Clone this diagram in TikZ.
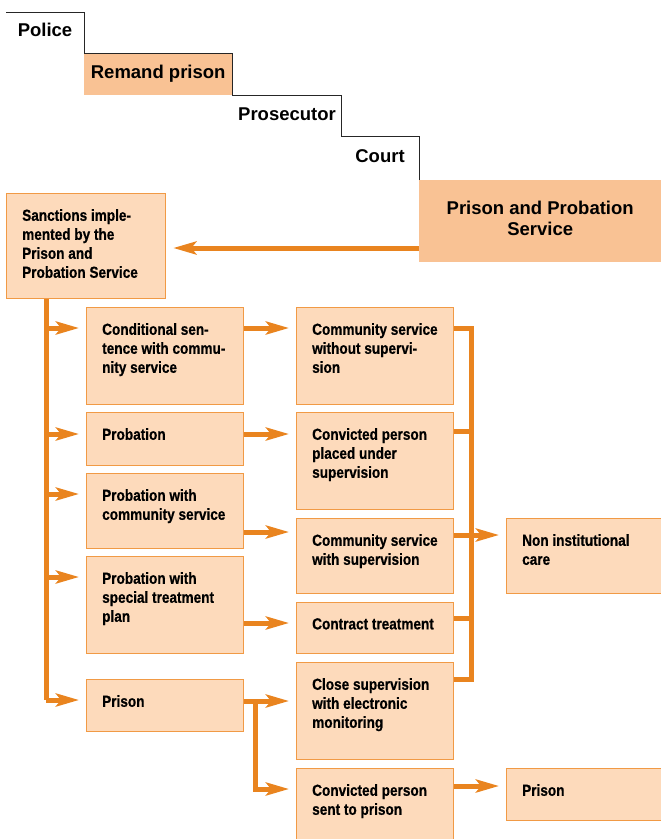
\documentclass[tikz,border=0pt]{standalone}
\usepackage{fontspec}
\setmainfont{Liberation Sans}
\newfontfamily\narrowfont[FakeStretch=0.85, FakeBold=0.6]{Liberation Sans Bold}
\usetikzlibrary{arrows.meta}
\definecolor{orline}{HTML}{E9841F}
\definecolor{boxfill}{HTML}{FDDABB}
\definecolor{boxdraw}{HTML}{F19A45}
\definecolor{stepfill}{HTML}{F9C294}

\tikzset{
  sbox/.style={draw=boxdraw, line width=1.3pt, fill=boxfill, anchor=north west, inner sep=0pt},
  lbl/.style={anchor=north west, inner sep=0pt, xshift=16pt, yshift=-16pt, align=left,
    font=\narrowfont\fontsize{16}{19}\selectfont},
  ln/.style={orline, line width=5pt},
  arr/.style={ln, -{Stealth[length=23pt,width=13pt,inset=5pt]}, shorten >=7pt},
  steplbl/.style={font=\bfseries\fontsize{18.5}{21}\selectfont, inner sep=0pt},
}

\begin{document}
\begin{tikzpicture}[x=1pt, y=-1pt]
        \useasboundingbox (0,0) rectangle (661,839);
        \clip (0,0) rectangle (661,839);

        \node[steplbl, fill=stepfill, anchor=north west, minimum width=148pt, minimum height=42pt] (remand) at (84,53) {Remand prison};
        \node[steplbl, fill=stepfill, anchor=north west, minimum width=242pt, minimum height=82pt, align=center, text depth=6pt] (pps) at (419,180) {Prison and Probation\\Service};
        \draw[black!85, line width=0.8pt] (6,12) -| (84,53) -| (232,95) -| (341,136) -| (419,180);
        \node[steplbl, anchor=base] (police) at (45,36) {Police};
        \node[steplbl, anchor=base] (prosec) at (287,120) {Prosecutor};
        \node[steplbl, anchor=base] (court) at (380,162) {Court};

        \node[sbox, minimum width=159pt, minimum height=105pt, label={[lbl]north west:{Sanctions imple-\\mented by the\\Prison and\\Probation Service}}] (sanc) at (6,193) {};

        \node[sbox, minimum width=157pt, minimum height=97pt, label={[lbl]north west:{Conditional sen-\\tence with commu-\\nity service}}] (cond) at (86,307) {};
        \node[sbox, minimum width=157pt, minimum height=53pt, label={[lbl]north west:{Probation}}] (prob) at (86,412) {};
        \node[sbox, minimum width=157pt, minimum height=75pt, label={[lbl]north west:{Probation with\\community service}}] (pcs) at (86,473) {};
        \node[sbox, minimum width=157pt, minimum height=97pt, label={[lbl]north west:{Probation with\\special treatment\\plan}}] (pst) at (86,556) {};
        \node[sbox, minimum width=157pt, minimum height=52pt, label={[lbl]north west:{Prison}}] (prisa) at (86,679) {};

        \node[sbox, minimum width=157pt, minimum height=97pt, label={[lbl]north west:{Community service\\without supervi-\\sion}}] (csno) at (296,307) {};
        \node[sbox, minimum width=157pt, minimum height=97pt, label={[lbl]north west:{Convicted person\\placed under\\supervision}}] (cpps) at (296,412) {};
        \node[sbox, minimum width=157pt, minimum height=75pt, label={[lbl]north west:{Community service\\with supervision}}] (csw) at (296,518) {};
        \node[sbox, minimum width=157pt, minimum height=51pt, label={[lbl]north west:{Contract treatment}}] (ct) at (296,602) {};
        \node[sbox, minimum width=157pt, minimum height=97pt, label={[lbl]north west:{Close supervision\\with electronic\\monitoring}}] (cse) at (296,662) {};
        \node[sbox, minimum width=157pt, minimum height=80pt, label={[lbl]north west:{Convicted person\\sent to prison}}] (cpsp) at (296,768) {};

        \node[sbox, minimum width=160pt, minimum height=75pt, label={[lbl]north west:{Non institutional\\care}}] (nic) at (506,518) {};
        \node[sbox, minimum width=160pt, minimum height=52pt, label={[lbl]north west:{Prison}}] (prisb) at (506,768) {};

        \coordinate (lbus) at (46,700);
        \coordinate (rbus) at (471,679);
        \coordinate (split) at (255,701);

        \draw[arr] (pps.west |- 0,248) -- (sanc.east |- 0,248);
        \draw[ln] (sanc.south -| lbus) -- (lbus);
        \draw[arr] (lbus |- 0,328) -- (cond.west |- 0,328);
        \draw[arr] (lbus |- 0,434) -- (prob.west |- 0,434);
        \draw[arr] (lbus |- 0,494) -- (pcs.west |- 0,494);
        \draw[arr] (lbus |- 0,577) -- (pst.west |- 0,577);
        \draw[arr] (lbus) -- (prisa.west |- lbus);

        \draw[arr] (cond.east |- 0,328) -- (csno.west |- 0,328);
        \draw[arr] (prob.east |- 0,434) -- (cpps.west |- 0,434);
        \draw[arr] (pcs.east |- 0,532) -- (csw.west |- 0,532);
        \draw[arr] (pst.east |- 0,623) -- (ct.west |- 0,623);
        \draw[arr] (prisa.east |- split) -- (cse.west |- split);
        \draw[arr] (split) |- (cpsp.west |- 0,789);

        \draw[ln] (csno.east |- 0,328) -| (rbus) -- (cse.east |- rbus);
        \draw[ln] (cpps.east |- 0,431) -- (rbus |- 0,431);
        \draw[ln] (ct.east |- 0,618) -- (rbus |- 0,618);
        \draw[arr] (csw.east |- 0,535) -- (nic.west |- 0,535);
        \draw[arr] (cpsp.east |- 0,786) -- (prisb.west |- 0,786);
      \end{tikzpicture}
\end{document}
